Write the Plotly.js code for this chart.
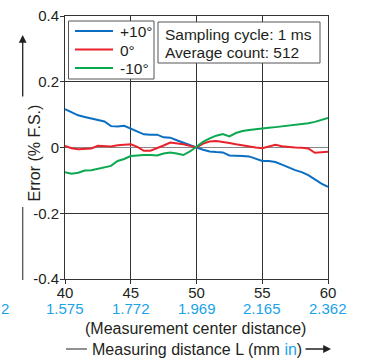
<!DOCTYPE html>
<html><head><meta charset="utf-8">
<script src="https://cdn.plot.ly/plotly-3.0.1.min.js"></script>
<style>html,body{margin:0;padding:0;background:#fff}#c{width:365px;height:361px}</style>
</head><body><div id="c"></div>
<script>
const distance = [40,40.5,41,41.5,42,42.5,43,43.5,44,44.5,45,45.5,46,46.5,47,47.5,48,48.5,49,49.5,50,50.5,51,51.5,52,52.5,53,53.5,54,54.5,55,55.5,56,56.5,57,57.5,58,58.5,59,59.5,60];
const plus10 = [0.117,0.108,0.098,0.093,0.088,0.084,0.079,0.065,0.064,0.066,0.058,0.049,0.040,0.039,0.039,0.031,0.030,0.022,0.014,0.007,0.000,-0.007,-0.012,-0.014,-0.015,-0.024,-0.026,-0.026,-0.027,-0.035,-0.041,-0.041,-0.044,-0.052,-0.061,-0.069,-0.075,-0.084,-0.097,-0.110,-0.120];
const zero = [0.005,-0.002,-0.005,-0.003,-0.003,0.005,0.005,0.003,0.007,0.009,0.010,0.002,-0.010,-0.010,-0.003,0.006,0.015,0.013,0.010,0.005,0.000,0.012,0.018,0.020,0.018,0.014,0.010,0.006,0.002,0.000,-0.002,0.003,0.008,0.004,0.001,0.000,-0.001,-0.003,-0.016,-0.014,-0.013];
const minus10 = [-0.075,-0.080,-0.077,-0.070,-0.069,-0.064,-0.060,-0.056,-0.041,-0.035,-0.026,-0.024,-0.023,-0.023,-0.024,-0.018,-0.015,-0.018,-0.023,-0.012,0.002,0.017,0.028,0.036,0.041,0.034,0.044,0.050,0.053,0.056,0.058,0.060,0.062,0.064,0.066,0.068,0.070,0.074,0.078,0.084,0.090];
const seriesNames = ['+10°','0°','-10°'];
const seriesColors = ['#0a6fc2','#e8232b','#0aa84f'];
const xTicks = [40,45,50,55,60];
const xTickMm = ['40','45','50','55','60'];
const xTickIn = ['1.575','1.772','1.969','2.165','2.362'];
const yTicks = [-0.4,-0.2,0,0.2,0.4];
const yTickText = ['-0.4','-0.2','0','0.2','0.4'];
const infoLines = ['Sampling cycle: 1 ms','Average count: 512'];

const BLUE_TXT = '#1aa3e8';
const TXT = '#231f20';
const FONT = 'Liberation Sans, Arial, sans-serif';
const seriesY = [plus10, zero, minus10];

const traces = seriesY.map((y,i)=>({x:distance,y:y,name:seriesNames[i],mode:'lines',
  line:{color:seriesColors[i],width:2},showlegend:false}));

function px(x){return (x-65)/263;}
function py(y){return (279-y)/263;}

const annotations = [];
const shapes = [];
// inch tick labels (second row)
xTickIn.forEach((t,i)=>annotations.push({xref:'x',yref:'paper',x:xTicks[i],y:py(308.5),yanchor:'middle',
  showarrow:false,text:t,font:{size:15,color:BLUE_TXT}}));
// partially visible label at the left edge
annotations.push({xref:'paper',yref:'paper',x:px(-1),y:py(308.5),xanchor:'left',yanchor:'middle',showarrow:false,text:'2',font:{size:15,color:BLUE_TXT}});
// custom legend
shapes.push({type:'rect',xref:'paper',yref:'paper',x0:px(68.5),x1:px(154),y0:py(21),y1:py(79),line:{color:'#555',width:1},fillcolor:'#fff',layer:'above'});
const legY = [31,49.5,68];
seriesNames.forEach((n,i)=>{
  shapes.push({type:'line',xref:'paper',yref:'paper',x0:px(75),x1:px(113),y0:py(legY[i]),y1:py(legY[i]),line:{color:seriesColors[i],width:2},layer:'above'});
  annotations.push({xref:'paper',yref:'paper',x:px(118),y:py(legY[i]+0.5),xanchor:'left',yanchor:'middle',showarrow:false,text:n,font:{size:15.5,color:TXT}});
});
// info box
shapes.push({type:'rect',xref:'paper',yref:'paper',x0:px(158),x1:px(320),y0:py(22),y1:py(63),line:{color:'#555',width:1},fillcolor:'#fff',layer:'above'});
infoLines.forEach((t,i)=>annotations.push({xref:'paper',yref:'paper',x:px(163),y:py(34+i*18.5),xanchor:'left',yanchor:'middle',showarrow:false,text:t,font:{size:15.5,color:TXT}}));
// y title with arrow
annotations.push({xref:'paper',yref:'paper',x:px(23.5),y:py(153.5),textangle:-90,showarrow:false,text:'Error (% F.S.)',font:{size:16,color:TXT}});
annotations.push({xref:'paper',yref:'paper',x:px(22.7),y:py(35),ax:0,ay:63,showarrow:true,arrowhead:2,arrowsize:1.2,arrowwidth:1.3,arrowcolor:TXT,text:''});
shapes.push({type:'line',xref:'paper',yref:'paper',x0:px(22.7),x1:px(22.7),y0:py(207),y1:py(280),line:{color:'#555',width:1.3}});
// bottom titles
annotations.push({xref:'paper',yref:'paper',x:px(195),y:py(328),yanchor:'middle',showarrow:false,text:'(Measurement center distance)',font:{size:16,color:TXT}});
annotations.push({xref:'paper',yref:'paper',x:px(197),y:py(349.5),yanchor:'middle',showarrow:false,
  text:'Measuring distance L (mm <span style="color:'+BLUE_TXT+'">in</span>)',font:{size:16,color:TXT}});
annotations.push({xref:'paper',yref:'paper',x:px(331),y:py(349),ax:-27,ay:0,showarrow:true,arrowhead:2,arrowsize:1.2,arrowwidth:1.3,arrowcolor:TXT,text:''});
shapes.push({type:'line',xref:'paper',yref:'paper',x0:px(66),x1:px(87),y0:py(349),y1:py(349),line:{color:'#555',width:1.3}});

const layout = {
  width:365,height:361,
  margin:{l:65,r:37,t:16,b:82},
  paper_bgcolor:'#fff',plot_bgcolor:'#fff',
  font:{family:FONT,size:15,color:TXT},
  showlegend:false,
  xaxis:{range:[40,60],tickvals:xTicks,ticktext:xTickMm,showline:true,mirror:true,linecolor:'#333',linewidth:1,
         ticks:'outside',ticklen:4,tickcolor:'#333',showgrid:true,gridcolor:'#333',gridwidth:1,zeroline:false,
         tickfont:{size:15,color:TXT},ticklabelstandoff:-4,fixedrange:true},
  yaxis:{range:[-0.4,0.4],tickvals:yTicks,ticktext:yTickText,showline:true,mirror:true,linecolor:'#333',linewidth:1,
         ticks:'outside',ticklen:4,tickcolor:'#333',showgrid:true,gridcolor:'#333',gridwidth:1,
         zeroline:true,zerolinecolor:'#888',zerolinewidth:1,tickfont:{size:15,color:TXT},ticklabelstandoff:-2,fixedrange:true},
  annotations:annotations,
  shapes:shapes
};
Plotly.newPlot('c',traces,layout,{displayModeBar:false,staticPlot:true});
</script></body></html>
